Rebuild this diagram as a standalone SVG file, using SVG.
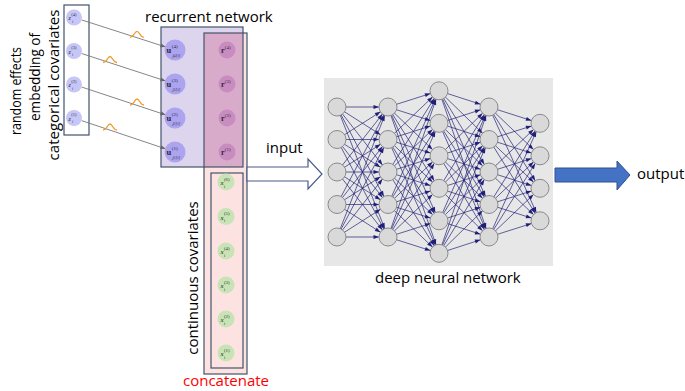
<svg xmlns="http://www.w3.org/2000/svg" width="685" height="391" viewBox="0 0 685 391">
<style>
.t{font-family:"Open Sans","Liberation Sans",Arial,sans-serif;font-size:15px;fill:#000}
.m{font-family:"Liberation Serif","DejaVu Serif",serif;fill:#2a2a3a}
.box{fill:none;stroke:#44546a;stroke-width:1.2}
.zc{fill:#c6c6f7}
.uc{fill:#aca4ef}
.rc{fill:#c98cc0}
.xc{fill:#c8e4b4}
.nn{fill:#d9d9d9;stroke:#8a8a8a;stroke-width:1}
.cl{stroke:#222277;stroke-width:0.7;fill:none;marker-end:url(#ah)}
.gl{stroke:#777;stroke-width:0.9;fill:none;marker-end:url(#ag)}
.bump{fill:none;stroke:#f29b2c;stroke-width:1.3}
</style>
<defs>
<marker id="ah" markerUnits="userSpaceOnUse" markerWidth="20" markerHeight="8" refX="14.5" refY="2" orient="auto" overflow="visible"><path d="M0,0L5.5,2L0,4z" fill="#1f1f7a"/></marker>
<marker id="ag" markerUnits="userSpaceOnUse" markerWidth="8" markerHeight="6" refX="5" refY="2" orient="auto" overflow="visible"><path d="M0,0L5,2L0,4z" fill="#666"/></marker>
<path id="bump" d="M-7,0C-3,0 -2.5,-6 0,-6C2.5,-6 3,0 7,0"/>
</defs>

<!-- left label -->
<text class="t" font-size="14" transform="translate(21,91) rotate(-90)" text-anchor="middle" textLength="88" lengthAdjust="spacingAndGlyphs">random effects</text>
<text class="t" font-size="14" transform="translate(40,77) rotate(-90)" text-anchor="middle" textLength="88" lengthAdjust="spacingAndGlyphs">embedding of</text>
<text class="t" transform="translate(59,85) rotate(-90)" text-anchor="middle">categorical covariates</text>

<!-- containers -->
<g id="concat-box">
<rect x="204" y="33" width="43" height="341" fill="#fde2e2"/>
</g>
<g id="recurrent-box">
<rect x="161" y="27" width="82" height="140" fill="#ddd5ee"/>
<rect x="204" y="33" width="39" height="134" fill="#d9abca"/>
<rect x="204" y="33" width="43" height="341" class="box"/>
<rect x="161" y="27" width="82" height="140" class="box"/>
<rect x="211" y="173" width="32" height="195" class="box"/>
</g>
<g id="cat-box"><rect x="64" y="5" width="25" height="130" fill="#fff" stroke="#44546a" stroke-width="1.2"/></g>
<g id="dnn-box"><rect x="324" y="78" width="229" height="188" fill="#e7e7e7"/></g>

<!-- connectors -->
<g id="connectors">
<path class="gl" d="M81.6,19.9L165.5,46.9"/>
<path class="gl" d="M81.6,53.5L165.5,80.9"/>
<path class="gl" d="M81.6,87L165.5,114.8"/>
<path class="gl" d="M81.6,120.6L165.5,148.8"/>
<use href="#bump" class="bump" x="137" y="37.3"/>
<use href="#bump" class="bump" x="110" y="62.5"/>
<use href="#bump" class="bump" x="137" y="105"/>
<use href="#bump" class="bump" x="110" y="130"/>
<polygon id="input-arrow" points="247,167 308,167 308,159 322,174 308,189 308,181 247,181" fill="#fff" stroke="#4a5a8a" stroke-width="1.2"/>
<polygon id="output-arrow" points="555,168 617,168 617,161 630,175 617,190 617,182 555,182" fill="#4472c4" stroke="#2f528f" stroke-width="1"/>
<path class="cl" d="M337,107L388,107"/><path class="cl" d="M337,107L388,139.5"/><path class="cl" d="M337,107L388,172"/><path class="cl" d="M337,107L388,204.5"/><path class="cl" d="M337,107L388,237"/>
<path class="cl" d="M337,139.5L388,107"/><path class="cl" d="M337,139.5L388,139.5"/><path class="cl" d="M337,139.5L388,172"/><path class="cl" d="M337,139.5L388,204.5"/><path class="cl" d="M337,139.5L388,237"/>
<path class="cl" d="M337,172L388,107"/><path class="cl" d="M337,172L388,139.5"/><path class="cl" d="M337,172L388,172"/><path class="cl" d="M337,172L388,204.5"/><path class="cl" d="M337,172L388,237"/>
<path class="cl" d="M337,204.5L388,107"/><path class="cl" d="M337,204.5L388,139.5"/><path class="cl" d="M337,204.5L388,172"/><path class="cl" d="M337,204.5L388,204.5"/><path class="cl" d="M337,204.5L388,237"/>
<path class="cl" d="M337,237L388,107"/><path class="cl" d="M337,237L388,139.5"/><path class="cl" d="M337,237L388,172"/><path class="cl" d="M337,237L388,204.5"/><path class="cl" d="M337,237L388,237"/>

<path class="cl" d="M388,107L439,90.8"/><path class="cl" d="M388,107L439,123.3"/><path class="cl" d="M388,107L439,155.8"/><path class="cl" d="M388,107L439,188.3"/><path class="cl" d="M388,107L439,220.8"/><path class="cl" d="M388,107L439,253.3"/>
<path class="cl" d="M388,139.5L439,90.8"/><path class="cl" d="M388,139.5L439,123.3"/><path class="cl" d="M388,139.5L439,155.8"/><path class="cl" d="M388,139.5L439,188.3"/><path class="cl" d="M388,139.5L439,220.8"/><path class="cl" d="M388,139.5L439,253.3"/>
<path class="cl" d="M388,172L439,90.8"/><path class="cl" d="M388,172L439,123.3"/><path class="cl" d="M388,172L439,155.8"/><path class="cl" d="M388,172L439,188.3"/><path class="cl" d="M388,172L439,220.8"/><path class="cl" d="M388,172L439,253.3"/>
<path class="cl" d="M388,204.5L439,90.8"/><path class="cl" d="M388,204.5L439,123.3"/><path class="cl" d="M388,204.5L439,155.8"/><path class="cl" d="M388,204.5L439,188.3"/><path class="cl" d="M388,204.5L439,220.8"/><path class="cl" d="M388,204.5L439,253.3"/>
<path class="cl" d="M388,237L439,90.8"/><path class="cl" d="M388,237L439,123.3"/><path class="cl" d="M388,237L439,155.8"/><path class="cl" d="M388,237L439,188.3"/><path class="cl" d="M388,237L439,220.8"/><path class="cl" d="M388,237L439,253.3"/>

<path class="cl" d="M439,90.8L489,107"/><path class="cl" d="M439,90.8L489,139.5"/><path class="cl" d="M439,90.8L489,172"/><path class="cl" d="M439,90.8L489,204.5"/><path class="cl" d="M439,90.8L489,237"/>
<path class="cl" d="M439,123.3L489,107"/><path class="cl" d="M439,123.3L489,139.5"/><path class="cl" d="M439,123.3L489,172"/><path class="cl" d="M439,123.3L489,204.5"/><path class="cl" d="M439,123.3L489,237"/>
<path class="cl" d="M439,155.8L489,107"/><path class="cl" d="M439,155.8L489,139.5"/><path class="cl" d="M439,155.8L489,172"/><path class="cl" d="M439,155.8L489,204.5"/><path class="cl" d="M439,155.8L489,237"/>
<path class="cl" d="M439,188.3L489,107"/><path class="cl" d="M439,188.3L489,139.5"/><path class="cl" d="M439,188.3L489,172"/><path class="cl" d="M439,188.3L489,204.5"/><path class="cl" d="M439,188.3L489,237"/>
<path class="cl" d="M439,220.8L489,107"/><path class="cl" d="M439,220.8L489,139.5"/><path class="cl" d="M439,220.8L489,172"/><path class="cl" d="M439,220.8L489,204.5"/><path class="cl" d="M439,220.8L489,237"/>
<path class="cl" d="M439,253.3L489,107"/><path class="cl" d="M439,253.3L489,139.5"/><path class="cl" d="M439,253.3L489,172"/><path class="cl" d="M439,253.3L489,204.5"/><path class="cl" d="M439,253.3L489,237"/>

<path class="cl" d="M489,107L540,123.3"/><path class="cl" d="M489,107L540,155.8"/><path class="cl" d="M489,107L540,188.3"/><path class="cl" d="M489,107L540,220.8"/>
<path class="cl" d="M489,139.5L540,123.3"/><path class="cl" d="M489,139.5L540,155.8"/><path class="cl" d="M489,139.5L540,188.3"/><path class="cl" d="M489,139.5L540,220.8"/>
<path class="cl" d="M489,172L540,123.3"/><path class="cl" d="M489,172L540,155.8"/><path class="cl" d="M489,172L540,188.3"/><path class="cl" d="M489,172L540,220.8"/>
<path class="cl" d="M489,204.5L540,123.3"/><path class="cl" d="M489,204.5L540,155.8"/><path class="cl" d="M489,204.5L540,188.3"/><path class="cl" d="M489,204.5L540,220.8"/>
<path class="cl" d="M489,237L540,123.3"/><path class="cl" d="M489,237L540,155.8"/><path class="cl" d="M489,237L540,188.3"/><path class="cl" d="M489,237L540,220.8"/>
</g>

<!-- z nodes -->
<g id="z4"><circle class="zc" cx="74" cy="17.5" r="8"/><text class="m" x="68.5" y="20" font-size="6"><tspan font-style="italic">z</tspan><tspan dx="0.5" dy="-4.5" font-size="4.5">(4)</tspan><tspan x="72" dy="7" font-size="4" font-style="italic">i</tspan></text></g>
<g id="z3"><circle class="zc" cx="74" cy="51" r="8"/><text class="m" x="68.5" y="53.5" font-size="6"><tspan font-style="italic">z</tspan><tspan dx="0.5" dy="-4.5" font-size="4.5">(3)</tspan><tspan x="72" dy="7" font-size="4" font-style="italic">i</tspan></text></g>
<g id="z2"><circle class="zc" cx="74" cy="84.5" r="8"/><text class="m" x="68.5" y="87" font-size="6"><tspan font-style="italic">z</tspan><tspan dx="0.5" dy="-4.5" font-size="4.5">(2)</tspan><tspan x="72" dy="7" font-size="4" font-style="italic">i</tspan></text></g>
<g id="z1"><circle class="zc" cx="74" cy="118" r="8"/><text class="m" x="68.5" y="120.5" font-size="6"><tspan font-style="italic">z</tspan><tspan dx="0.5" dy="-4.5" font-size="4.5">(1)</tspan><tspan x="72" dy="7" font-size="4" font-style="italic">i</tspan></text></g>

<!-- u nodes -->
<g id="u4"><circle class="uc" cx="175" cy="50" r="10.5"/><text class="m" x="166.5" y="53" font-size="8.5"><tspan font-weight="bold">u</tspan><tspan dx="0.5" dy="-5" font-size="5">(4)</tspan><tspan x="172.5" dy="8.5" font-size="4.5" font-style="italic">j<tspan font-size="3.3" font-style="normal">4</tspan>[i]</tspan></text></g>
<g id="u3"><circle class="uc" cx="175" cy="84" r="10.5"/><text class="m" x="166.5" y="87" font-size="8.5"><tspan font-weight="bold">u</tspan><tspan dx="0.5" dy="-5" font-size="5">(3)</tspan><tspan x="172.5" dy="8.5" font-size="4.5" font-style="italic">j<tspan font-size="3.3" font-style="normal">3</tspan>[i]</tspan></text></g>
<g id="u2"><circle class="uc" cx="175" cy="118" r="10.5"/><text class="m" x="166.5" y="121" font-size="8.5"><tspan font-weight="bold">u</tspan><tspan dx="0.5" dy="-5" font-size="5">(2)</tspan><tspan x="172.5" dy="8.5" font-size="4.5" font-style="italic">j<tspan font-size="3.3" font-style="normal">2</tspan>[i]</tspan></text></g>
<g id="u1"><circle class="uc" cx="175" cy="152" r="10.5"/><text class="m" x="166.5" y="155" font-size="8.5"><tspan font-weight="bold">u</tspan><tspan dx="0.5" dy="-5" font-size="5">(1)</tspan><tspan x="172.5" dy="8.5" font-size="4.5" font-style="italic">j<tspan font-size="3.3" font-style="normal">1</tspan>[i]</tspan></text></g>

<!-- r nodes -->
<g id="r4"><circle class="rc" cx="227" cy="50" r="8.5"/><text class="m" x="221" y="53" font-size="8"><tspan font-weight="bold">r</tspan><tspan dx="0.3" dy="-4" font-size="5">(4)</tspan></text></g>
<g id="r3"><circle class="rc" cx="227" cy="84" r="8.5"/><text class="m" x="221" y="87" font-size="8"><tspan font-weight="bold">r</tspan><tspan dx="0.3" dy="-4" font-size="5">(3)</tspan></text></g>
<g id="r2"><circle class="rc" cx="227" cy="118" r="8.5"/><text class="m" x="221" y="121" font-size="8"><tspan font-weight="bold">r</tspan><tspan dx="0.3" dy="-4" font-size="5">(2)</tspan></text></g>
<g id="r1"><circle class="rc" cx="227" cy="152" r="8.5"/><text class="m" x="221" y="155" font-size="8"><tspan font-weight="bold">r</tspan><tspan dx="0.3" dy="-4" font-size="5">(1)</tspan></text></g>

<!-- x nodes -->
<g id="x6"><circle class="xc" cx="226" cy="182" r="8.5"/><text class="m" x="220.5" y="185" font-size="7"><tspan font-style="italic">x</tspan><tspan dx="0.3" dy="-4.5" font-size="4.8">(6)</tspan><tspan x="224" dy="7" font-size="4">i</tspan></text></g>
<g id="x5"><circle class="xc" cx="226" cy="216.5" r="8.5"/><text class="m" x="220.5" y="219.5" font-size="7"><tspan font-style="italic">x</tspan><tspan dx="0.3" dy="-4.5" font-size="4.8">(5)</tspan><tspan x="224" dy="7" font-size="4">i</tspan></text></g>
<g id="x4"><circle class="xc" cx="226" cy="251" r="8.5"/><text class="m" x="220.5" y="254" font-size="7"><tspan font-style="italic">x</tspan><tspan dx="0.3" dy="-4.5" font-size="4.8">(4)</tspan><tspan x="224" dy="7" font-size="4">i</tspan></text></g>
<g id="x3"><circle class="xc" cx="226" cy="285" r="8.5"/><text class="m" x="220.5" y="288" font-size="7"><tspan font-style="italic">x</tspan><tspan dx="0.3" dy="-4.5" font-size="4.8">(3)</tspan><tspan x="224" dy="7" font-size="4">i</tspan></text></g>
<g id="x2"><circle class="xc" cx="226" cy="319" r="8.5"/><text class="m" x="220.5" y="322" font-size="7"><tspan font-style="italic">x</tspan><tspan dx="0.3" dy="-4.5" font-size="4.8">(2)</tspan><tspan x="224" dy="7" font-size="4">i</tspan></text></g>
<g id="x1"><circle class="xc" cx="226" cy="353" r="8.5"/><text class="m" x="220.5" y="356" font-size="7"><tspan font-style="italic">x</tspan><tspan dx="0.3" dy="-4.5" font-size="4.8">(1)</tspan><tspan x="224" dy="7" font-size="4">i</tspan></text></g>

<!-- DNN nodes -->
<g id="n1-1"><circle class="nn" cx="337" cy="107" r="9"/></g>
<g id="n1-2"><circle class="nn" cx="337" cy="139.5" r="9"/></g>
<g id="n1-3"><circle class="nn" cx="337" cy="172" r="9"/></g>
<g id="n1-4"><circle class="nn" cx="337" cy="204.5" r="9"/></g>
<g id="n1-5"><circle class="nn" cx="337" cy="237" r="9"/></g>
<g id="n2-1"><circle class="nn" cx="388" cy="107" r="9"/></g>
<g id="n2-2"><circle class="nn" cx="388" cy="139.5" r="9"/></g>
<g id="n2-3"><circle class="nn" cx="388" cy="172" r="9"/></g>
<g id="n2-4"><circle class="nn" cx="388" cy="204.5" r="9"/></g>
<g id="n2-5"><circle class="nn" cx="388" cy="237" r="9"/></g>
<g id="n3-1"><circle class="nn" cx="439" cy="90.8" r="9"/></g>
<g id="n3-2"><circle class="nn" cx="439" cy="123.3" r="9"/></g>
<g id="n3-3"><circle class="nn" cx="439" cy="155.8" r="9"/></g>
<g id="n3-4"><circle class="nn" cx="439" cy="188.3" r="9"/></g>
<g id="n3-5"><circle class="nn" cx="439" cy="220.8" r="9"/></g>
<g id="n3-6"><circle class="nn" cx="439" cy="253.3" r="9"/></g>
<g id="n4-1"><circle class="nn" cx="489" cy="107" r="9"/></g>
<g id="n4-2"><circle class="nn" cx="489" cy="139.5" r="9"/></g>
<g id="n4-3"><circle class="nn" cx="489" cy="172" r="9"/></g>
<g id="n4-4"><circle class="nn" cx="489" cy="204.5" r="9"/></g>
<g id="n4-5"><circle class="nn" cx="489" cy="237" r="9"/></g>
<g id="n5-1"><circle class="nn" cx="540" cy="123.3" r="9"/></g>
<g id="n5-2"><circle class="nn" cx="540" cy="155.8" r="9"/></g>
<g id="n5-3"><circle class="nn" cx="540" cy="188.3" r="9"/></g>
<g id="n5-4"><circle class="nn" cx="540" cy="220.8" r="9"/></g>

<!-- labels -->
<text class="t" x="145" y="22">recurrent network</text>
<text class="t" x="266" y="153">input</text>
<text class="t" x="637" y="179" font-size="12.5">output</text>
<text class="t" x="375" y="283">deep neural network</text>
<text class="t" x="226" y="386" text-anchor="middle" style="fill:#ff0000">concatenate</text>
<text class="t" transform="translate(198,278) rotate(-90)" text-anchor="middle">continuous covariates</text>
</svg>
